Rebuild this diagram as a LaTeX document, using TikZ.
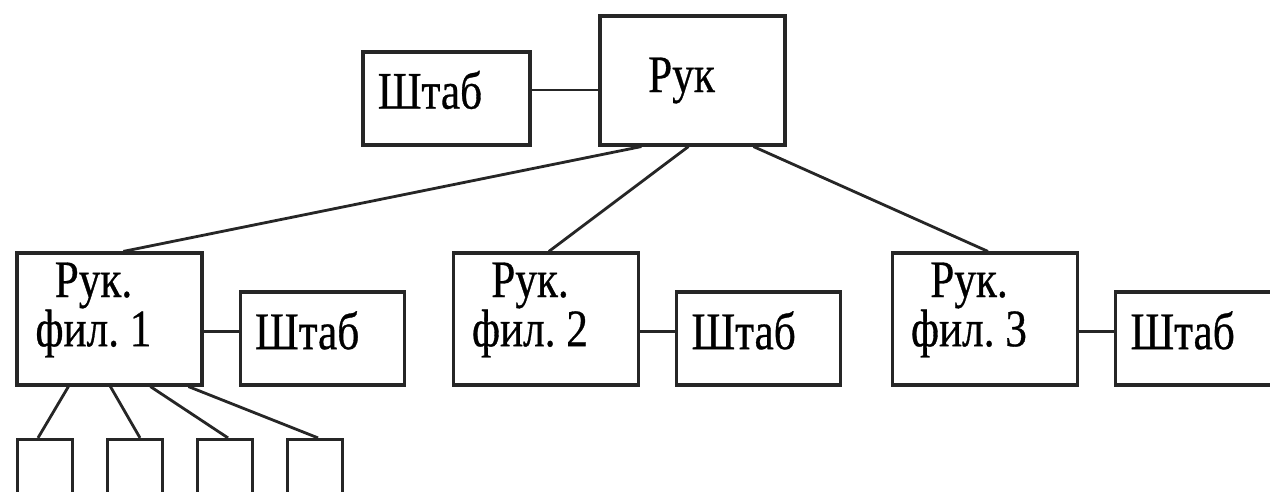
\documentclass[tikz,border=0pt]{standalone}
\usepackage{fontspec}
\setmainfont[FakeStretch=0.82, FakeBold=0.6]{Liberation Serif}
\usetikzlibrary{positioning}

\tikzset{
  box/.style={draw=black!85, line width=0.9pt, minimum width=1.85cm, minimum height=1.32cm, inner sep=0pt},
  staff/.style={draw=black!85, line width=0.9pt, minimum width=1.64cm, minimum height=0.93cm, inner sep=0pt},
  unitbox/.style={draw=black!85, line width=0.9pt, minimum size=0.55cm, inner sep=0pt},
  lbl/.style={font=\fontsize{15}{14}\selectfont, align=center, inner sep=0pt},
  link/.style={draw=black!85, line width=0.8pt}
}

\begin{document}
\begin{tikzpicture}
  \useasboundingbox (0,0) rectangle (12.7,4.92);

  % head and its staff
  \node[box, minimum height=1.29cm] (ruk) at (6.925,4.115) {};
  \node[staff, minimum width=1.67cm] (shtab0) at (4.465,3.935) {};
  \node[lbl] (tRuk) at ([xshift=-0.11cm]ruk.center) {Рук};
  \node[lbl] (tShtab0) at ([shift={(-0.165,0.085)}]shtab0.center) {Штаб};
  \coordinate (m0) at ([yshift=0.085cm]shtab0.east);
  \draw[link] (m0) -- (m0 -| ruk.west);

  % branches
  \foreach \n/\x in {1/1.095, 2/5.46, 3/9.85} {
    \node[box] (fil\n) at (\x,1.73) {};
    \node[staff, right=0.35cm of fil\n.south east, anchor=south west] (shtab\n) {};
    \node[lbl] (tFil\n) at ([shift={(-0.16,0.09)}]fil\n.center) {Рук.\\фил.~\n};
    \node[lbl] (tShtab\n) at ([shift={(-0.15,0.08)}]shtab\n.center) {Штаб};
    \coordinate (m\n) at ([yshift=0.07cm]shtab\n.west);
    \draw[link] (m\n) -- (m\n -| fil\n.east);
  }

  \foreach \n/\a/\b in {1/0.43/1.08, 2/0.90/0.97, 3/1.55/0.97}
    \draw[link] ([xshift=\a cm]ruk.south west) -- ([xshift=\b cm]fil\n.north west);

  % units under branch 1
  \foreach \i/\a/\b in {1/0.53/-0.07, 2/0.95/0.05, 3/1.35/0.03, 4/1.73/0.03} {
    \node[unitbox] (u\i) at ({0.9*\i-0.45},0.25) {};
    \draw[link] ([xshift=\a cm]fil1.south west) -- ([xshift=\b cm]u\i.north);
  }
\end{tikzpicture}
\end{document}
